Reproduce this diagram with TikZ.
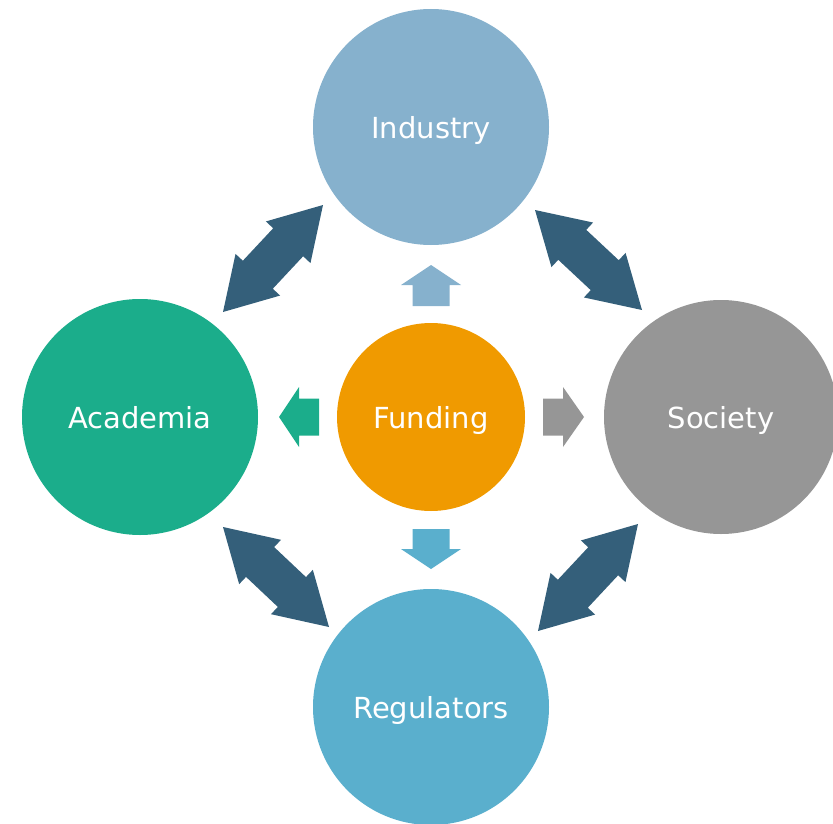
\documentclass[tikz,border=0pt]{standalone}
\usepackage{fontspec}
\setmainfont{DejaVu Sans}
\usetikzlibrary{calc}
\definecolor{indc}{HTML}{86B1CD}
\definecolor{acac}{HTML}{1BAD8B}
\definecolor{socc}{HTML}{969696}
\definecolor{regc}{HTML}{5AAFCD}
\definecolor{func}{HTML}{F09A00}
\definecolor{darkc}{HTML}{345F7A}
\newcommand{\dblarr}[2]{%
  \coordinate (h1) at ($(#1)!51pt!(#2)$);
  \coordinate (h2) at ($(#2)!51pt!(#1)$);
  \fill[darkc] (#1) -- ($(h1)!30.5pt!90:(#2)$) -- ($(h1)!20.5pt!90:(#2)$)
    -- ($(h2)!20.5pt!-90:(#1)$) -- ($(h2)!30.5pt!-90:(#1)$) -- (#2)
    -- ($(h2)!30.5pt!90:(#1)$) -- ($(h2)!20.5pt!90:(#1)$)
    -- ($(h1)!20.5pt!-90:(#2)$) -- ($(h1)!30.5pt!-90:(#2)$) -- cycle;}
\begin{document}
\begin{tikzpicture}[x=1pt,y=-1pt,
  lbl/.style={text=white,font=\fontsize{29}{34}\selectfont,text depth=0pt},
  bigc/.style={circle,inner sep=0pt,minimum size=236pt,lbl},
  smallc/.style={circle,inner sep=0pt,minimum size=188pt,lbl}]
\useasboundingbox (0,0) rectangle (833,824);
\node[bigc,fill=indc] (ind) at (431,127) {Industry};
\node[bigc,fill=acac] (aca) at (140,417) {Academia};
\node[bigc,fill=socc,minimum size=234pt] (soc) at (721,417) {Society};
\node[bigc,fill=regc] (reg) at (431,707) {Regulators};
\node[smallc,fill=func] (fun) at (431,417) {Funding};
% double arrow tips
\coordinate (tl1) at ($(ind.center)+(-108,78)$);
\coordinate (tr1) at ($(ind.center)+(104,83)$);
\coordinate (tl2) at ($(aca.center)+(83,-105)$);
\coordinate (bl1) at ($(aca.center)+(83,110)$);
\coordinate (tr2) at ($(soc.center)+(-79,-107)$);
\coordinate (br1) at ($(soc.center)+(-83,107)$);
\coordinate (bl2) at ($(reg.center)+(-102,-80)$);
\coordinate (br2) at ($(reg.center)+(107,-76)$);
\dblarr{tl1}{tl2}
\dblarr{tr1}{tr2}
\dblarr{bl1}{bl2}
\dblarr{br1}{br2}
% small block arrows from Funding
\begin{scope}[shift={(fun.center)}]
  \fill[indc] (-18.5,-111) -- (-18.5,-132) -- (-30,-132) -- (0,-152) -- (30,-132) -- (18.5,-132) -- (18.5,-111) -- cycle;
  \fill[regc] (-18.5,112) -- (-18.5,132) -- (-30,132) -- (0,152) -- (30,132) -- (18.5,132) -- (18.5,112) -- cycle;
  \fill[acac] (-112,-18.5) -- (-132,-18.5) -- (-132,-30) -- (-152,0) -- (-132,30) -- (-132,18.5) -- (-112,18.5) -- cycle;
  \fill[socc] (112,-18.5) -- (132,-18.5) -- (132,-30) -- (153,0) -- (132,30) -- (132,18.5) -- (112,18.5) -- cycle;
\end{scope}
\end{tikzpicture}
\end{document}
